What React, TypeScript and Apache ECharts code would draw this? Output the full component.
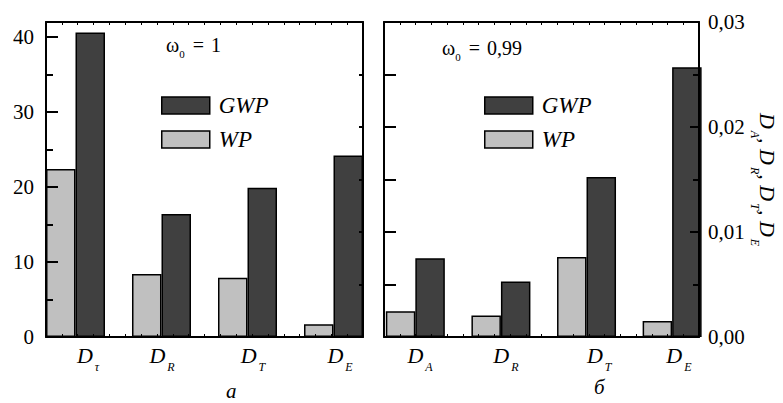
import React, { useEffect, useRef } from "react";
import * as echarts from "echarts";

// ---- data ----
const leftSubscripts = ["τ", "R", "T", "E"];
const rightSubscripts = ["A", "R", "T", "E"];
const leftWP = [22.4, 8.4, 7.9, 1.7];
const leftGWP = [40.6, 16.4, 19.9, 24.2];
const rightWP = [0.00245, 0.00204, 0.00762, 0.00152];
const rightGWP = [0.0075, 0.00528, 0.01524, 0.02569];
const leftYTicks = [0, 10, 20, 30, 40];
const rightYTicks = [0, 0.01, 0.02, 0.03];
const seriesNames = ["WP", "GWP"];
const leftLabelPos = [0.145, 1.006, 2.064, 3.076];
const rightLabelPos = [0.055, 1.058, 2.148, 3.08];

const SERIF = "Liberation Serif, serif";
const DARK = "#404040";
const LIGHT = "#c0c0c0";

const subRich = {
  d: { fontFamily: SERIF, fontStyle: "italic", fontSize: 22, lineHeight: 36, color: "#000" },
  s: { fontFamily: SERIF, fontStyle: "italic", fontSize: 12, lineHeight: 12, verticalAlign: "bottom", color: "#000", padding: [0, 0, 0, 2] },
};

const omegaRich = {
  w: { fontFamily: SERIF, fontSize: 20, lineHeight: 28, fill: "#000" },
  e: { fontFamily: SERIF, fontSize: 20, lineHeight: 28, fill: "#000", padding: [0, 7, 0, 8] },
  s: { fontFamily: SERIF, fontSize: 11, lineHeight: 10, verticalAlign: "bottom", fill: "#000" },
};

function App() {
  const ref = useRef<HTMLDivElement>(null);
  useEffect(() => {
    document.body.style.margin = "0";
    if (!ref.current) return;
    const chart = echarts.init(ref.current, undefined, { renderer: "svg" });

    const axisLine = { show: true, onZero: false, lineStyle: { color: "#000", width: 2 } };

    // small inward ticks along the bottom frame, spaced ~16px
    const bottomTicks = (min: number, max: number) => {
      const out: number[] = [];
      const step = (max - min) / 20;
      for (let k = 1; k < 20; k++) out.push(min + step * k);
      return out;
    };

    const topX = (gridIndex: number) => ({
      type: "value",
      gridIndex,
      position: "top",
      min: 0,
      max: 20,
      interval: 1,
      z: 5,
      axisLine,
      axisTick: { show: true, inside: true, length: 3, lineStyle: { color: "#000", width: 1 } },
      axisLabel: { show: false },
      splitLine: { show: false },
    });

    const mainX = (gridIndex: number, min: number, max: number, subs: string[], pos: number[]) => ({
      type: "value",
      gridIndex,
      position: "bottom",
      min,
      max,
      z: 5,
      axisLine,
      axisTick: { show: true, inside: true, length: 3, customValues: bottomTicks(min, max), lineStyle: { color: "#000", width: 1 } },
      splitLine: { show: false },
      axisLabel: {
        show: true,
        customValues: pos,
        margin: 0,
        formatter: (v: number) => `{d|D}{s|${subs[Math.round(v)]}}`,
        rich: subRich,
      },
    });

    const option: any = {
      animation: false,
      backgroundColor: "#fff",
      grid: [
        { left: 46, right: 420, top: 22, bottom: 66 },
        { left: 384, right: 84, top: 22, bottom: 66 },
      ],
      xAxis: [
        mainX(0, -0.343, 3.343, leftSubscripts, leftLabelPos),
        topX(0),
        mainX(1, -0.366, 3.314, rightSubscripts, rightLabelPos),
        topX(1),
      ],
      yAxis: [
        {
          type: "value",
          gridIndex: 0,
          position: "left",
          min: 0,
          max: 42,
          interval: 10,
          z: 5,
          axisLine,
          axisTick: { show: true, inside: true, length: 12, lineStyle: { color: "#000", width: 2 } },
          minorTick: { show: true, splitNumber: 2, length: 7, lineStyle: { color: "#000", width: 2 } },
          splitLine: { show: false },
          axisLabel: {
            show: true,
            margin: 12,
            customValues: leftYTicks,
            fontFamily: SERIF,
            fontSize: 21,
            color: "#000",
          },
        },
        {
          type: "value",
          gridIndex: 0,
          position: "right",
          min: 0,
          max: 0.03,
          interval: 0.005,
          z: 5,
          axisLine,
          axisTick: { show: true, inside: true, length: 4, lineStyle: { color: "#000", width: 2 } },
          splitLine: { show: false },
          axisLabel: { show: false },
        },
        {
          type: "value",
          gridIndex: 1,
          position: "left",
          min: 0,
          max: 0.03,
          interval: 0.005,
          z: 5,
          axisLine,
          axisTick: { show: true, inside: true, length: 12, lineStyle: { color: "#000", width: 2 } },
          splitLine: { show: false },
          axisLabel: { show: false },
        },
        {
          type: "value",
          gridIndex: 1,
          position: "right",
          min: 0,
          max: 0.03,
          interval: 0.01,
          z: 5,
          axisLine,
          axisTick: { show: true, inside: true, length: 9, lineStyle: { color: "#000", width: 2 } },
          minorTick: { show: true, splitNumber: 2, length: 6, lineStyle: { color: "#000", width: 2 } },
          splitLine: { show: false },
          axisLabel: {
            show: true,
            margin: 9,
            customValues: rightYTicks,
            fontFamily: SERIF,
            fontSize: 21,
            color: "#000",
            formatter: (v: number) => v.toFixed(2).replace(".", ","),
          },
          name: "{d|D}{s|A}{d|, D}{s|R}{d|, D}{s|T}{d|, D}{s|E}",
          nameLocation: "middle",
          nameRotate: -90,
          nameGap: 50,
          nameTextStyle: { rich: subRich },
        },
      ],
      legend: [0, 1].map((i) => ({
        left: i === 0 ? 161 : 484,
        top: 94,
        orient: "vertical",
        padding: 0,
        itemGap: 11,
        itemWidth: 48,
        itemHeight: 17,
        icon: "rect",
        data: ["GWP", "WP"],
        itemStyle: { borderColor: "#000", borderWidth: 1.5 },
        textStyle: { fontFamily: SERIF, fontStyle: "italic", fontSize: 23, lineHeight: 22, color: "#000", padding: [0, 0, 0, 4] },
      })),
      series: [
        { vals: leftWP, name: seriesNames[0], color: LIGHT, x: 0, y: 0 },
        { vals: leftGWP, name: seriesNames[1], color: DARK, x: 0, y: 0 },
        { vals: rightWP, name: seriesNames[0], color: LIGHT, x: 2, y: 3 },
        { vals: rightGWP, name: seriesNames[1], color: DARK, x: 2, y: 3 },
      ].map((s) => ({
        type: "bar",
        name: s.name,
        xAxisIndex: s.x,
        yAxisIndex: s.y,
        barWidth: 29.5,
        barGap: "0%",
        data: s.vals.map((v, i) => [i, v]),
        itemStyle: { color: s.color, borderColor: "#000", borderWidth: 1.5 },
        z: 2,
      })),
      graphic: [
        {
          type: "text",
          left: 166,
          top: 35,
          style: { text: "{w|ω}{s|0}{e|=}{w|1}", rich: omegaRich },
        },
        {
          type: "text",
          left: 442,
          top: 38,
          style: { text: "{w|ω}{s|0}{e|=}{w|0,99}", rich: omegaRich },
        },
        {
          type: "text",
          left: 226,
          top: 380,
          style: { text: "а", font: `italic 21px ${SERIF}`, fill: "#000" },
        },
        {
          type: "text",
          left: 594,
          top: 376,
          style: { text: "б", font: `italic 21px ${SERIF}`, fill: "#000" },
        },
      ],
    };

    chart.setOption(option);
    return () => chart.dispose();
  }, []);
  return <div ref={ref} style={{ width: 783, height: 403 }} />;
}

export default App;
